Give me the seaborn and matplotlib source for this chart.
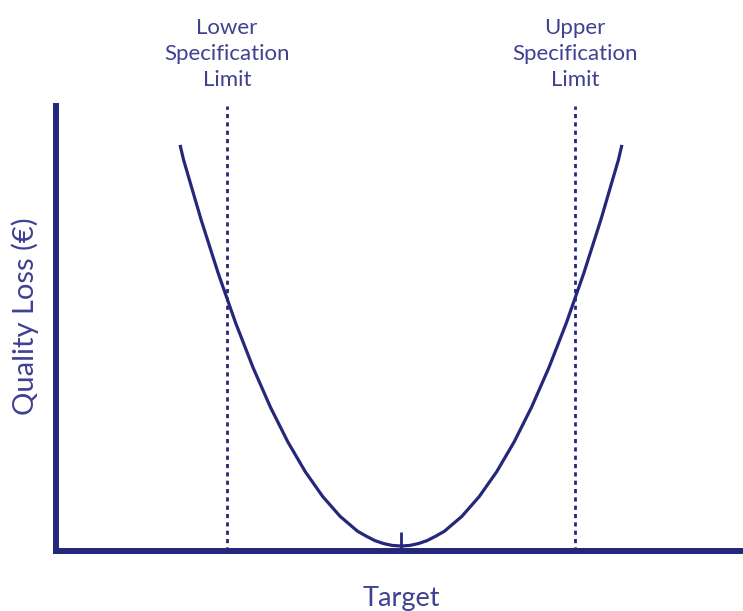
import numpy as np
import pandas as pd
import matplotlib
matplotlib.use("Agg")
import matplotlib.pyplot as plt
import matplotlib.transforms as mtransforms
import seaborn as sns

# deviation from target (LSL = -1, USL = +1) and quality loss
deviation = [-1.27, -1.25, -1.2, -1.15, -1.1, -1.05, -1.0, -0.95, -0.9, -0.85, -0.8, -0.75,
             -0.7, -0.65, -0.6, -0.55, -0.5, -0.45, -0.4, -0.35, -0.3, -0.25, -0.2, -0.15,
             -0.1, -0.05, 0.0, 0.05, 0.1, 0.15, 0.2, 0.25, 0.3, 0.35, 0.4, 0.45, 0.5, 0.55,
             0.6, 0.65, 0.7, 0.75, 0.8, 0.85, 0.9, 0.95, 1.0, 1.05, 1.1, 1.15, 1.2, 1.25, 1.27]
loss = [1.62, 1.56, 1.44, 1.32, 1.21, 1.10, 1.0, 0.90, 0.81, 0.72, 0.64, 0.56,
        0.49, 0.42, 0.36, 0.30, 0.25, 0.20, 0.16, 0.12, 0.09, 0.06, 0.04, 0.022,
        0.01, 0.0025, 0.0, 0.0025, 0.01, 0.022, 0.04, 0.06, 0.09, 0.12, 0.16, 0.20, 0.25, 0.30,
        0.36, 0.42, 0.49, 0.56, 0.64, 0.72, 0.81, 0.90, 1.0, 1.10, 1.21, 1.32, 1.44, 1.56, 1.62]
spec_limits = [-1.0, 1.0]
spec_labels = ["Lower\nSpecification\nLimit", "Upper\nSpecification\nLimit"]
target_pos = [0.0]
target_label = ["Target"]
y_title = "Quality Loss (€)"

navy = "#25287a"
text_col = "#3f4191"

sns.set_style("white")
plt.rcParams["font.family"] = ["Lato", "DejaVu Sans"]

df = pd.DataFrame({"deviation": deviation, "loss": loss})

fig = plt.figure(figsize=(7.43, 6.11), dpi=100)
ax = fig.add_axes([0.0754, 0.0982, 0.9246, 0.7283])

sns.lineplot(data=df, x="deviation", y="loss", color=navy, linewidth=2.3, ax=ax,
             solid_capstyle="butt")

# dotted spec limit lines
for xv in spec_limits:
    ax.axvline(xv, ymin=0, ymax=1, color=navy, linewidth=2.0, linestyle=(0, (1.5, 1.5)))

ax.set_xlim(-1.983, 1.966)
ax.set_ylim(-0.02, 1.777)

trans = mtransforms.blended_transform_factory(ax.transData, ax.transAxes)
for xv, lab in zip(spec_limits, spec_labels):
    ax.text(xv, 1.117, lab, transform=trans, ha="center", va="center", fontsize=16,
            color=text_col, linespacing=1.35, clip_on=False)

ax.set_xticks(target_pos, labels=target_label)
ax.set_yticks([])
ax.tick_params(axis="x", bottom=True, direction="in", length=14, width=2, color=navy,
               labelsize=19.5, labelcolor=text_col, pad=25)
ax.set_xlabel("")
ax.set_ylabel(y_title, fontsize=21, color=text_col, labelpad=12, y=0.528)

for side in ["top", "right"]:
    ax.spines[side].set_visible(False)
for side in ["left", "bottom"]:
    ax.spines[side].set_color(navy)
    ax.spines[side].set_linewidth(4.3)
    ax.spines[side].set_capstyle("projecting")

fig.savefig("out.png", dpi=100, facecolor="white")
